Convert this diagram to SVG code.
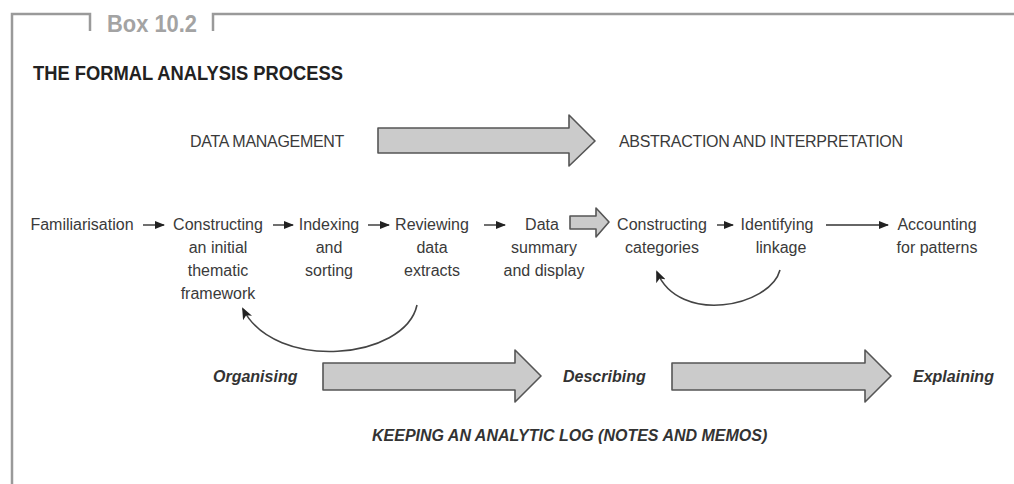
<svg xmlns="http://www.w3.org/2000/svg" width="1014" height="484" viewBox="0 0 1014 484">
<defs>
<style>
.t{font-family:"Liberation Sans",Arial,sans-serif;font-size:16px;fill:#3a3a3a;text-anchor:middle}
.h{font-family:"Liberation Sans",Arial,sans-serif;font-size:16px;fill:#3a3a3a;letter-spacing:-0.3px}
.bi{font-family:"Liberation Sans",Arial,sans-serif;font-size:16px;font-weight:bold;font-style:italic;fill:#333}
.blk{fill:#cbcbcb;stroke:#555;stroke-width:1.6;stroke-linejoin:round}
.sa{stroke:#333;stroke-width:1.4;fill:none;marker-end:url(#ah)}
.cv{stroke:#444;stroke-width:1.6;fill:none;marker-end:url(#ah2)}
.frame{stroke:#9a9a9a;stroke-width:2.5;fill:none}
</style>
<marker id="ah" markerWidth="10" markerHeight="8" refX="9" refY="4" orient="auto" markerUnits="userSpaceOnUse">
<path d="M0,0 L10,4 L0,8 Z" fill="#222"/>
</marker>
<marker id="ah2" markerWidth="12" markerHeight="10" refX="10" refY="5" orient="auto" markerUnits="userSpaceOnUse">
<path d="M0,0 L12,5 L0,10 L3,5 Z" fill="#222"/>
</marker>
</defs>
<rect width="1014" height="484" fill="#fff"/>

<g id="frame">
<path class="frame" d="M12,484 V14 H90 V31"/>
<path class="frame" d="M213,31 V14 H1014"/>
<text x="107" y="32" textLength="90" lengthAdjust="spacingAndGlyphs" style="font-family:'Liberation Sans',Arial,sans-serif;font-size:23px;font-weight:bold;fill:#a3a3a3">Box 10.2</text>
<text x="33" y="80" textLength="310" lengthAdjust="spacingAndGlyphs" style="font-family:'Liberation Sans',Arial,sans-serif;font-size:21px;font-weight:bold;fill:#222">THE FORMAL ANALYSIS PROCESS</text>
</g>

<g id="data-management"><text class="h" x="190" y="147">DATA MANAGEMENT</text></g>
<g id="abstraction"><text class="h" x="619" y="147">ABSTRACTION AND INTERPRETATION</text></g>

<g id="familiarisation"><text class="t" x="82" y="230">Familiarisation</text></g>
<g id="constructing-framework"><text class="t" x="218" y="230">Constructing<tspan x="218" y="253">an initial</tspan><tspan x="218" y="276">thematic</tspan><tspan x="218" y="299">framework</tspan></text></g>
<g id="indexing"><text class="t" x="329" y="230">Indexing<tspan x="329" y="253">and</tspan><tspan x="329" y="276">sorting</tspan></text></g>
<g id="reviewing"><text class="t" x="432" y="230">Reviewing<tspan x="432" y="253">data</tspan><tspan x="432" y="276">extracts</tspan></text></g>
<g id="data-summary"><text class="t" x="542" y="230">Data<tspan x="544" y="253">summary</tspan><tspan x="544" y="276">and display</tspan></text></g>
<g id="constructing-categories"><text class="t" x="662" y="230">Constructing<tspan x="662" y="253">categories</tspan></text></g>
<g id="identifying"><text class="t" x="777" y="230">Identifying<tspan x="781" y="253">linkage</tspan></text></g>
<g id="accounting"><text class="t" x="937" y="230">Accounting<tspan x="937" y="253">for patterns</tspan></text></g>

<g id="organising"><text class="bi" x="213" y="382">Organising</text></g>
<g id="describing"><text class="bi" x="563" y="382">Describing</text></g>
<g id="explaining"><text class="bi" x="913" y="382">Explaining</text></g>
<g id="log"><text class="bi" x="372" y="441">KEEPING AN ANALYTIC LOG (NOTES AND MEMOS)</text></g>

<g id="connectors">
<path class="blk" d="M378,128 H569 V115 L595,141 L569,166 V153 H378 Z"/>
<path class="blk" d="M570,216 H596 V208 L609,222 L596,237 V229 H570 Z"/>
<path class="blk" d="M323,363 H515 V350 L541,376 L515,402 V390 H323 Z"/>
<path class="blk" d="M672,363 H865 V350 L891,376 L865,402 V390 H672 Z"/>
<line class="sa" x1="143" y1="225" x2="164" y2="225"/>
<line class="sa" x1="273" y1="225" x2="293" y2="225"/>
<line class="sa" x1="368" y1="225" x2="389" y2="225"/>
<line class="sa" x1="484" y1="225" x2="505" y2="225"/>
<line class="sa" x1="717" y1="225" x2="733" y2="225"/>
<line class="sa" x1="826" y1="225" x2="888" y2="225"/>
<path class="cv" d="M417,305 C405,360 275,372 243,309"/>
<path class="cv" d="M780,270 C770,307 679,325 657,272"/>
</g>
</svg>
